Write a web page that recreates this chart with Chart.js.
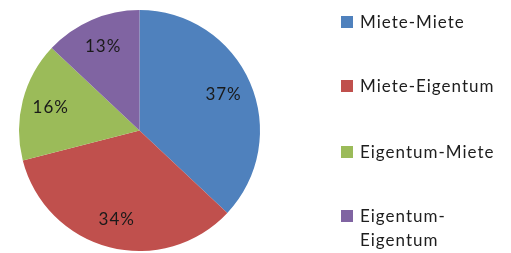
<!DOCTYPE html>
<html>
<head>
<meta charset="utf-8">
<script src="https://cdn.jsdelivr.net/npm/chart.js@4"></script>
<style>
  html, body { margin: 0; padding: 0; background: #fff; }
  #wrap { position: relative; width: 511px; height: 253px; }
  #legend { position: absolute; left: 341px; top: 0; font-family: Lato, "Open Sans", sans-serif; font-size: 17px; letter-spacing: 1px; color: #1e1e1e; }
  .item { position: absolute; left: 0; width: 170px; display: flex; align-items: flex-start; line-height: 24px; }
  .box { width: 12px; height: 12px; margin-top: 6px; margin-right: 7px; flex: none; }
  .lbl { width: 160px; white-space: nowrap; }
</style>
</head>
<body>
<div id="wrap">
  <canvas id="pie" width="511" height="253"></canvas>
  <div id="legend"></div>
</div>
<script>
// chart values
const categories = ['Miete-Miete', 'Miete-Eigentum', 'Eigentum-Miete', 'Eigentum-Eigentum'];
const shares = [37, 34, 16, 13];
const colors = ['#4F81BD', '#C0504D', '#9BBB59', '#8064A2'];
const legendLabels = ['Miete-Miete', 'Miete-Eigentum', 'Eigentum-Miete', 'Eigentum-<br>Eigentum'];
const legendTops = [10, 74, 140, 204];

// draws the percent labels inside the slices
const sliceLabels = {
    id: 'sliceLabels',
    afterDatasetsDraw(chart) {
        const ctx = chart.ctx;
        const meta = chart.getDatasetMeta(0);
        ctx.save();
        ctx.font = '17px Lato, "Open Sans", sans-serif';
        ctx.letterSpacing = '1px';
        ctx.fillStyle = '#1a1a1a';
        ctx.textAlign = 'center';
        ctx.textBaseline = 'middle';
        meta.data.forEach((arc, i) => {
            const mid = (arc.startAngle + arc.endAngle) / 2;
            const r = arc.outerRadius * 0.76;
            ctx.fillText(shares[i] + '%', arc.x + Math.cos(mid) * r, arc.y + Math.sin(mid) * r);
        });
        ctx.restore();
    }
};

new Chart(document.getElementById('pie').getContext('2d'), {
    type: 'pie',
    data: {
        labels: categories,
        datasets: [{
            data: shares,
            backgroundColor: colors,
            borderWidth: 0
        }]
    },
    options: {
        responsive: false,
        animation: false,
        layout: { padding: { left: 19, right: 251, top: 10, bottom: 2 } },
        plugins: {
            legend: { display: false },
            tooltip: { enabled: false }
        }
    },
    plugins: [sliceLabels]
});

const legend = document.getElementById('legend');
categories.forEach((c, i) => {
    const item = document.createElement('div');
    item.className = 'item';
    item.style.top = legendTops[i] + 'px';
    item.innerHTML = '<div class="box" style="background:' + colors[i] + '"></div><div class="lbl">' + legendLabels[i] + '</div>';
    legend.appendChild(item);
});
</script>
</body>
</html>
